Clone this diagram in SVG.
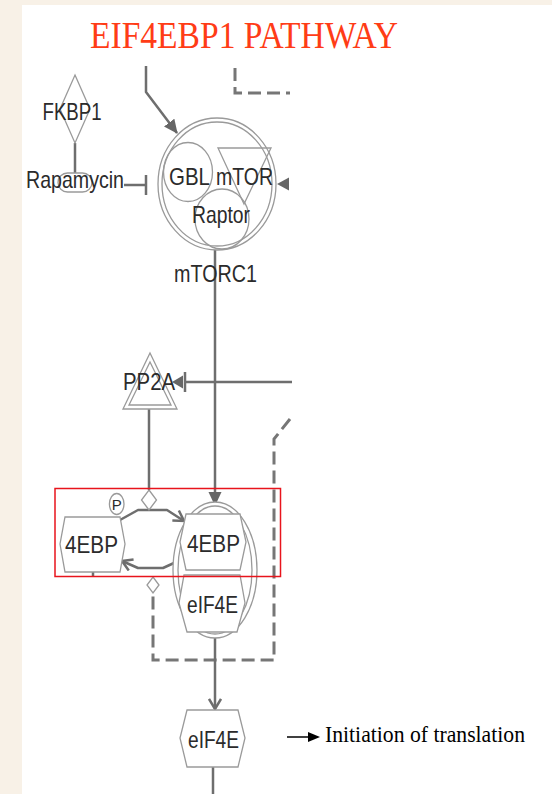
<svg xmlns="http://www.w3.org/2000/svg" width="552" height="794" viewBox="0 0 552 794">
<defs>
<style>
.node{fill:#fff;stroke:#9a9a9a;stroke-width:1.3}
.nodef{fill:none;stroke:#9a9a9a;stroke-width:1.3}
.lbl{font-family:"Liberation Sans",Arial,sans-serif;font-size:24px;fill:#2b2b2b}
.con{fill:none;stroke:#6e6e6e;stroke-width:2.5;stroke-linejoin:round}
.dash{fill:none;stroke:#767676;stroke-width:3;stroke-dasharray:13 6}
.head{fill:#666;stroke:none}
</style>
<marker id="af" markerUnits="userSpaceOnUse" markerWidth="14" markerHeight="14" viewBox="0 0 14 14" refX="13" refY="7" orient="auto"><path d="M0,0.5 L14,7 L0,13.5 Z" fill="#666"/></marker>
<marker id="av" markerUnits="userSpaceOnUse" markerWidth="14" markerHeight="14" viewBox="0 0 14 14" refX="12" refY="7" orient="auto"><path d="M2,1 L12,7 L2,13" fill="none" stroke="#6e6e6e" stroke-width="2.5"/></marker>
</defs>
<rect x="0" y="0" width="552" height="794" fill="#f8f1e7"/>
<rect x="22" y="5" width="530" height="789" fill="#ffffff"/>
<text x="90" y="48" font-family="'Liberation Serif','Times New Roman',serif" font-size="37" fill="#ff3c16" textLength="308" lengthAdjust="spacingAndGlyphs">EIF4EBP1 PATHWAY</text>

<g id="connectors">
<path class="con" d="M146,66 L146,92 L177,133" marker-end="url(#af)"/>
<path class="dash" d="M235,68 L235,93 L290,93"/>
<line class="con" x1="75" y1="143" x2="75" y2="173"/>
<line class="con" x1="124" y1="185" x2="146" y2="185"/>
<line class="con" x1="146" y1="175" x2="146" y2="195"/>
<polygon class="head" points="277,184 289,177.5 289,190.5"/>
<line class="con" x1="215" y1="249" x2="215" y2="505" marker-end="url(#af)"/>
<line class="con" x1="185" y1="382" x2="292" y2="382"/>
<line class="con" x1="185" y1="372" x2="185" y2="392"/>
<polygon class="head" points="172,382 183,375.5 183,388.5"/>
<line class="con" x1="149" y1="409" x2="149" y2="490"/>
<path class="dash" d="M290,419 L274,439 L274,660 L153,660 L153,594"/>
<path class="con" d="M120,520 L138,510 L167,510 L184,521" marker-end="url(#av)"/>
<path class="con" d="M174,563 L163,568 L138,568 L122,561" marker-end="url(#av)"/>
<line class="con" x1="93" y1="572" x2="93" y2="577"/>
<line class="con" x1="215" y1="638" x2="215" y2="709" marker-end="url(#av)"/>
<line class="con" x1="213" y1="767" x2="213" y2="794"/>
<line x1="287" y1="737" x2="310" y2="737" stroke="#000" stroke-width="1.5"/>
<polygon points="320,737 308,732 308,742" fill="#000"/>
</g>

<g id="FKBP1">
<polygon class="node" points="75,75 90,109 75,143 60,109"/>
<text class="lbl" x="42.5" y="120" textLength="59" lengthAdjust="spacingAndGlyphs">FKBP1</text>
</g>
<g id="Rapamycin">
<rect class="node" x="58" y="173" width="34" height="19" rx="9.5"/>
<text class="lbl" x="26" y="188" textLength="98" lengthAdjust="spacingAndGlyphs">Rapamycin</text>
</g>
<g id="mTORC1">
<ellipse class="node" cx="217" cy="184" rx="59" ry="66"/>
<ellipse class="nodef" cx="217" cy="184" rx="55" ry="62"/>
<g id="GBL">
<ellipse class="nodef" cx="188" cy="172" rx="24.5" ry="29.5"/>
<text class="lbl" x="169" y="185" textLength="41" lengthAdjust="spacingAndGlyphs">GBL</text>
</g>
<g id="mTOR">
<polygon class="nodef" points="218,148 271,148 244,204"/>
<text class="lbl" x="216" y="185" textLength="57" lengthAdjust="spacingAndGlyphs">mTOR</text>
</g>
<g id="Raptor">
<ellipse class="nodef" cx="222" cy="219" rx="27" ry="30"/>
<text class="lbl" x="192" y="223" textLength="58" lengthAdjust="spacingAndGlyphs">Raptor</text>
</g>
<text class="lbl" x="174" y="282" textLength="83" lengthAdjust="spacingAndGlyphs">mTORC1</text>
</g>
<g id="PP2A">
<polygon class="node" points="150,353 177,409 123,409"/>
<polygon class="nodef" points="150,362 171,405 129,405"/>
<text class="lbl" x="123" y="390" textLength="52" lengthAdjust="spacingAndGlyphs">PP2A</text>
</g>
<g id="diamond-upper">
<polygon class="node" points="149,490 156.5,500 149,510 141.5,500"/>
</g>
<g id="diamond-lower">
<polygon class="node" points="153,577 159,585 153,593 147,585"/>
</g>
<g id="4EBP-P">
<polygon class="node" points="65,517 120,517 125,544 120,572 65,572 60,544"/>
<text class="lbl" x="65" y="553" textLength="53" lengthAdjust="spacingAndGlyphs">4EBP</text>
<ellipse class="node" cx="116.7" cy="504" rx="7.3" ry="10.5"/>
<text x="116.7" y="510" text-anchor="middle" font-family="'Liberation Sans',Arial,sans-serif" font-size="15" fill="#2b2b2b">P</text>
</g>
<g id="complex-4EBP-eIF4E">
<ellipse class="node" cx="215" cy="570" rx="42" ry="68"/>
<ellipse class="nodef" cx="215" cy="570" rx="37" ry="64"/>
<g id="4EBP-bound">
<polygon class="node" points="186,514 240,514 246,542 240,570 186,570 180,542"/>
<text class="lbl" x="187" y="552" textLength="53" lengthAdjust="spacingAndGlyphs">4EBP</text>
</g>
<g id="eIF4E-bound">
<polygon class="node" points="184,575 240,575 245,603 237,632 187,632 179,603"/>
<text class="lbl" x="187" y="613" textLength="51" lengthAdjust="spacingAndGlyphs">eIF4E</text>
</g>
</g>
<g id="eIF4E">
<polygon class="node" points="187,710 238,710 245,738 238,767 187,767 180,738"/>
<text class="lbl" x="188" y="748" textLength="51" lengthAdjust="spacingAndGlyphs">eIF4E</text>
</g>
<g id="initiation">
<text x="325" y="742" font-family="'Liberation Serif','Times New Roman',serif" font-size="23" fill="#000" textLength="200" lengthAdjust="spacingAndGlyphs">Initiation of translation</text>
</g>
<rect x="55" y="488.5" width="225.5" height="88" fill="none" stroke="#e8141c" stroke-width="1.5"/>
</svg>
